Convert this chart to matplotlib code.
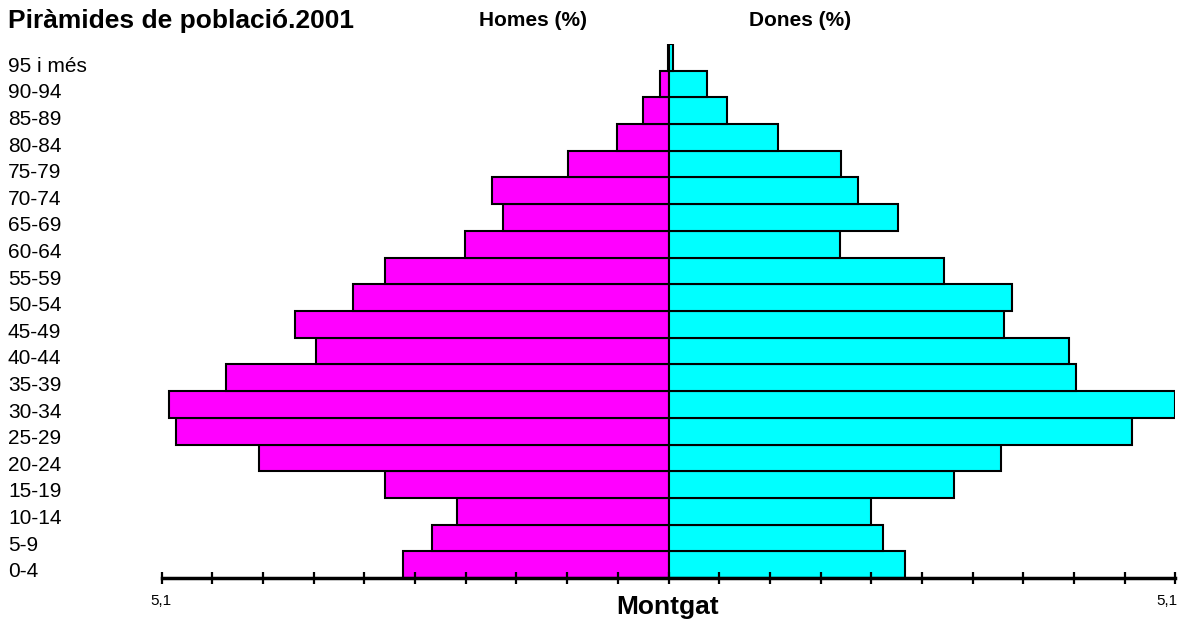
import numpy as np
import matplotlib.pyplot as plt

plt.rcParams['font.family'] = ['Liberation Sans', 'DejaVu Sans']

# age groups, bottom to top
ages = ['0-4', '5-9', '10-14', '15-19', '20-24', '25-29', '30-34', '35-39',
        '40-44', '45-49', '50-54', '55-59', '60-64', '65-69', '70-74',
        '75-79', '80-84', '85-89', '90-94', '95 i més']
# percentages
homes = [2.67, 2.38, 2.13, 2.85, 4.12, 4.96, 5.03, 4.45, 3.55, 3.76,
         3.17, 2.85, 2.05, 1.67, 1.78, 1.01, 0.52, 0.26, 0.09, 0.01]
dones = [2.38, 2.16, 2.04, 2.87, 3.35, 4.66, 5.10, 4.10, 4.03, 3.38,
         3.46, 2.77, 1.73, 2.31, 1.91, 1.74, 1.10, 0.59, 0.39, 0.05]
xmax = 5.1

W, H = 1187, 626
fig = plt.figure(figsize=(W / 100, H / 100), dpi=100)
ax = fig.add_axes([161.7 / W, (H - 578) / H, (1175.3 - 161.7) / W, (578 - 44) / H])

y = np.arange(len(ages))
ax.barh(y, [-v for v in homes], height=1.0, color='#ff00ff', edgecolor='black', linewidth=1.5)
ax.barh(y, dones, height=1.0, color='#00ffff', edgecolor='black', linewidth=1.5)

ax.set_xlim(-xmax, xmax)
ax.set_ylim(-0.5, len(ages) - 0.5)
for pos in ['left', 'right', 'top']:
    ax.spines[pos].set_visible(False)
ax.spines['bottom'].set_linewidth(2.5)
ax.spines['bottom'].set_zorder(5)
ax.set_yticks([])
ax.set_xticks(np.linspace(-xmax, xmax, 21))
ax.set_xticklabels([])
ax.tick_params(axis='x', direction='inout', length=9, width=1.6)

# age labels at the left edge of the figure
for i, lab in enumerate(ages):
    fig.text(8 / W, 1 - (578 - 26.6 * (i + 0.5) + 7) / H, lab,
             fontsize=15, ha='left', va='center')

fig.text(8 / W, 1 - 21 / H, 'Piràmides de població.2001',
         fontsize=19, fontweight='bold', ha='left', va='center')
fig.text(533 / W, 1 - 21 / H, 'Homes (%)', fontsize=15, fontweight='bold',
         ha='center', va='center')
fig.text(800 / W, 1 - 21 / H, 'Dones (%)', fontsize=15, fontweight='bold',
         ha='center', va='center')
fig.text(668 / W, 1 - 607 / H, 'Montgat', fontsize=19, fontweight='bold',
         ha='center', va='center')
fig.text(160.5 / W, 1 - 601 / H, '5,1', fontsize=11, ha='center', va='center')
fig.text(1167 / W, 1 - 601 / H, '5,1', fontsize=11, ha='center', va='center')

fig.savefig('out.png', dpi=100)
